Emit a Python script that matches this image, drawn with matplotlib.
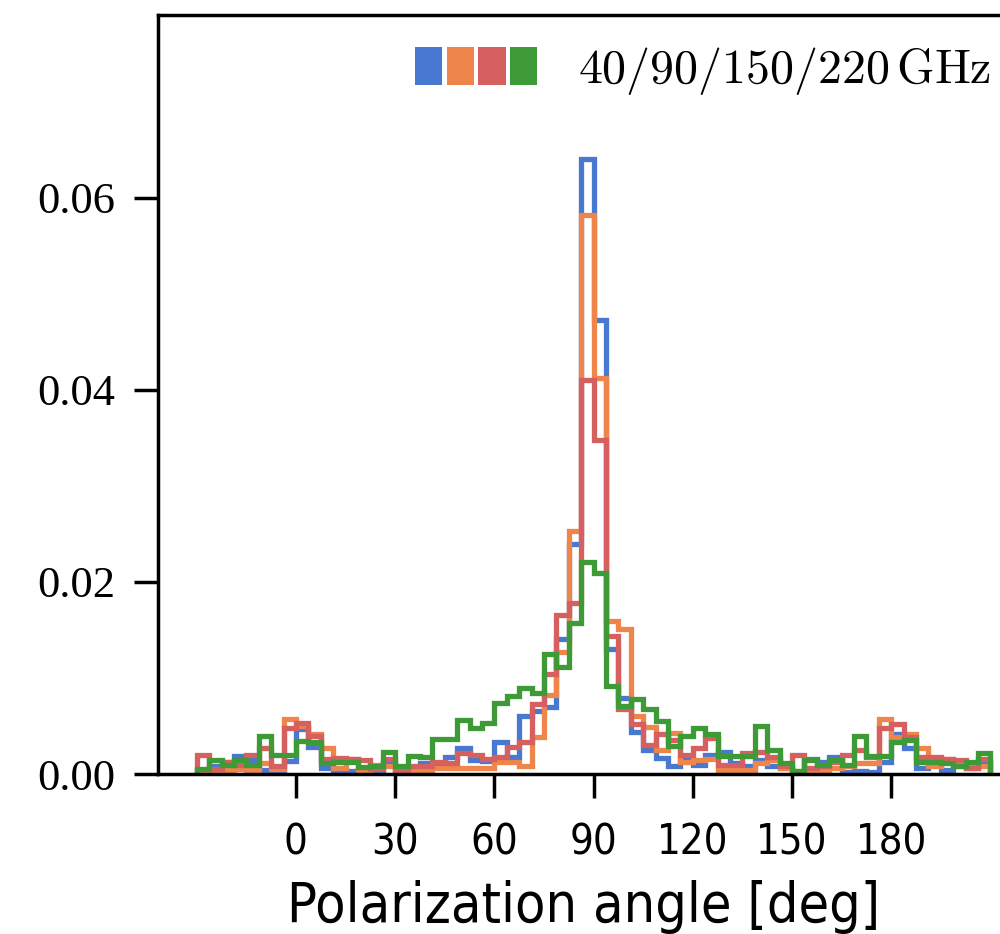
import numpy as np
import matplotlib
matplotlib.use('Agg')
import matplotlib.pyplot as plt
from matplotlib.patches import Patch
from matplotlib.legend_handler import HandlerTuple

plt.rcParams['mathtext.fontset'] = 'cm'

# bin edges: 64 bins of 3.75 deg from -30 to 210
edges = np.linspace(-30, 210, 65)

# normalised counts per bin
h40 = [0.0003, 0.0008, 0.0012, 0.0019, 0.0015, 0.0004, 0.0004, 0.0014,
       0.0047, 0.0028, 0.0006, 0.0004, 0.0003, 0.0004, 0.0003, 0.0010,
       0.0003, 0.0002, 0.0011, 0.0008, 0.0018, 0.0027, 0.0015, 0.0014,
       0.0033, 0.0018, 0.0060, 0.0066, 0.0070, 0.0140, 0.0239, 0.0640,
       0.0473, 0.0130, 0.0079, 0.0044, 0.0025, 0.0017, 0.0008, 0.0015,
       0.0009, 0.0020, 0.0023, 0.0011, 0.0008, 0.0015, 0.0008, 0.0006,
       0.0002, 0.0016, 0.0013, 0.0018, 0.0002, 0.0003, 0.0002, 0.0013,
       0.0042, 0.0027, 0.0006, 0.0009, 0.0004, 0.0008, 0.0006, 0.0012]
h90 = [0.0002, 0.0003, 0.0004, 0.0005, 0.0004, 0.0011, 0.0005, 0.0057,
       0.0050, 0.0042, 0.0027, 0.0006, 0.0016, 0.0004, 0.0009, 0.0008,
       0.0004, 0.0004, 0.0004, 0.0006, 0.0006, 0.0006, 0.0006, 0.0006,
       0.0012, 0.0012, 0.0008, 0.0039, 0.0082, 0.0127, 0.0253, 0.0582,
       0.0412, 0.0159, 0.0151, 0.0060, 0.0049, 0.0025, 0.0043, 0.0013,
       0.0015, 0.0016, 0.0004, 0.0004, 0.0004, 0.0011, 0.0015, 0.0006,
       0.0003, 0.0003, 0.0004, 0.0006, 0.0008, 0.0011, 0.0011, 0.0057,
       0.0039, 0.0042, 0.0027, 0.0008, 0.0016, 0.0013, 0.0008, 0.0008]
h150 = [0.0020, 0.0005, 0.0013, 0.0009, 0.0020, 0.0027, 0.0008, 0.0048,
        0.0053, 0.0040, 0.0016, 0.0017, 0.0016, 0.0015, 0.0005, 0.0016,
        0.0004, 0.0008, 0.0008, 0.0013, 0.0011, 0.0022, 0.0020, 0.0016,
        0.0018, 0.0028, 0.0033, 0.0073, 0.0104, 0.0166, 0.0178, 0.0410,
        0.0348, 0.0144, 0.0068, 0.0052, 0.0030, 0.0042, 0.0035, 0.0020,
        0.0027, 0.0037, 0.0009, 0.0009, 0.0022, 0.0023, 0.0018, 0.0008,
        0.0020, 0.0006, 0.0008, 0.0013, 0.0020, 0.0025, 0.0018, 0.0048,
        0.0052, 0.0039, 0.0018, 0.0018, 0.0016, 0.0015, 0.0006, 0.0016]
h220 = [0.0005, 0.0015, 0.0009, 0.0015, 0.0009, 0.0040, 0.0020, 0.0020,
        0.0034, 0.0033, 0.0011, 0.0012, 0.0012, 0.0007, 0.0008, 0.0023,
        0.0008, 0.0019, 0.0018, 0.0036, 0.0036, 0.0056, 0.0048, 0.0053,
        0.0074, 0.0081, 0.0090, 0.0084, 0.0125, 0.0111, 0.0157, 0.0221,
        0.0209, 0.0092, 0.0071, 0.0078, 0.0068, 0.0055, 0.0029, 0.0040,
        0.0048, 0.0042, 0.0019, 0.0019, 0.0019, 0.0050, 0.0025, 0.0011,
        0.0003, 0.0015, 0.0009, 0.0015, 0.0009, 0.0040, 0.0019, 0.0019,
        0.0033, 0.0035, 0.0012, 0.0012, 0.0011, 0.0008, 0.0012, 0.0022]

colors = ['#4878d0', '#ee854a', '#d65f5f', '#3e9a36']
xticks = [0, 30, 60, 90, 120, 150, 180]
yticks = [0.0, 0.02, 0.04, 0.06]

sans = ['Liberation Sans Narrow', 'DejaVu Sans']

fig = plt.figure(figsize=(10, 9.34), dpi=100)
# right edge of the axes sits just outside the picture (cropped figure)
ax = fig.add_axes([0.158, 0.1713, 0.852, 0.8127])

for h, c in zip([h40, h90, h150, h220], colors):
    ax.stairs(h, edges, color=c, lw=3.8, baseline=0)

ax.set_xlim(-41.7, 215.9)
ax.set_ylim(0, 0.079)
ax.set_xticks(xticks)
ax.set_yticks(yticks)
ax.set_yticklabels(['%.2f' % v for v in yticks], family=['Liberation Serif', 'DejaVu Serif'], fontsize=32)
ax.set_xticklabels([str(v) for v in xticks], family=sans, stretch='condensed', fontsize=30)
ax.tick_params(axis='both', length=17, width=2.5, direction='out')
ax.tick_params(axis='y', pad=14)
ax.tick_params(axis='x', pad=17)
for s in ax.spines.values():
    s.set_linewidth(2.5)

ax.set_xlabel('Polarization angle [deg]', family=sans, stretch='condensed',
              fontsize=40, labelpad=12)

squares = tuple(Patch(facecolor=c, edgecolor='none') for c in colors)
ax.legend([squares], [r'$40/90/150/220\,\mathrm{GHz}$'],
          handler_map={tuple: HandlerTuple(ndivide=None, pad=0.085)},
          loc='upper left', bbox_to_anchor=(0.415, 0.952), bbox_transform=fig.transFigure,
          frameon=False, fontsize=34.5, handlelength=2.55, handleheight=0.85,
          handletextpad=0.85, borderpad=0, borderaxespad=0)

fig.savefig('out.png', dpi=100)
